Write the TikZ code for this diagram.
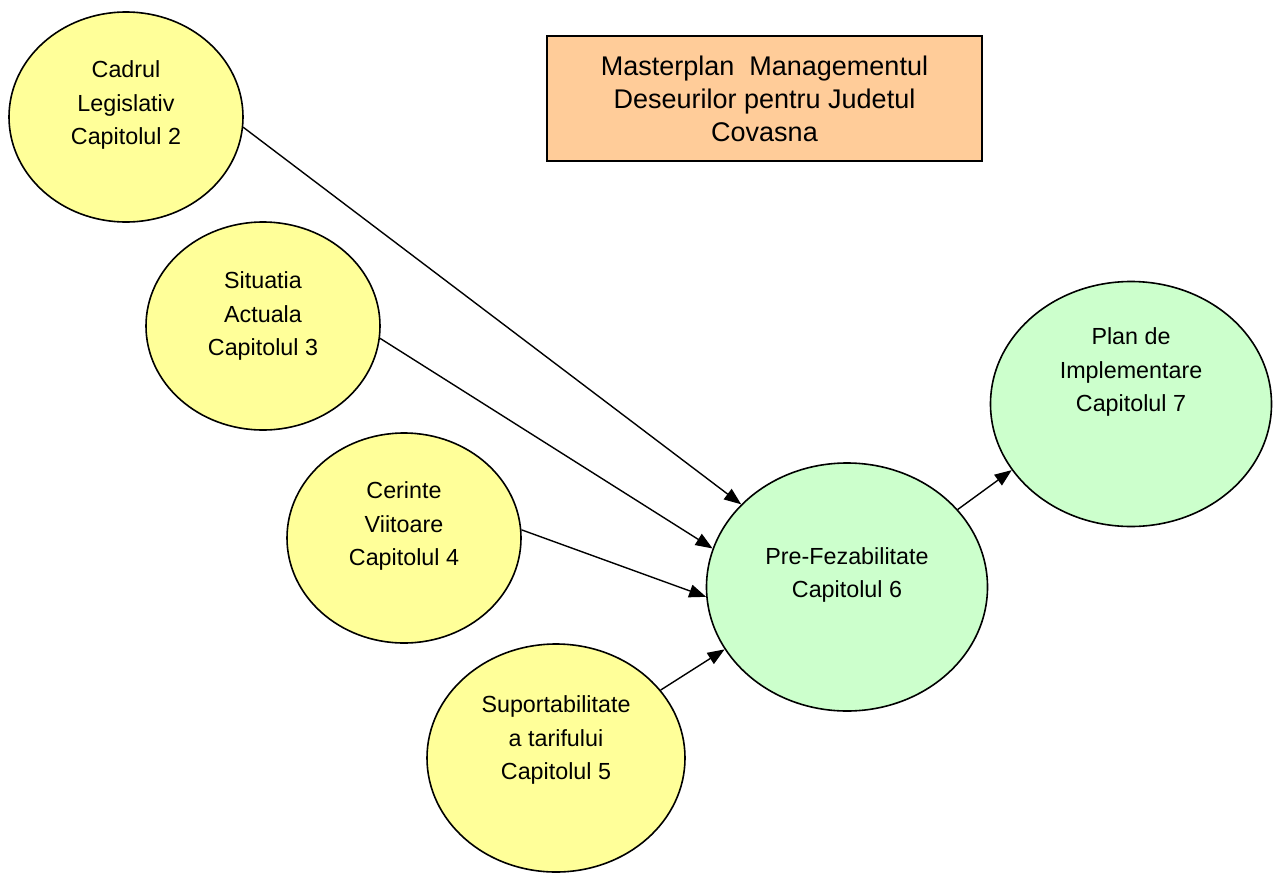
\documentclass[tikz,border=0pt]{standalone}
\usepackage{fontspec}
\setmainfont{Liberation Sans}
\usetikzlibrary{shapes.geometric,arrows.meta}
\definecolor{chapyellow}{HTML}{FFFF99}
\definecolor{chapgreen}{HTML}{CCFFCC}
\definecolor{titlepeach}{HTML}{FFCC99}
\begin{document}
\begin{tikzpicture}[x=1pt,y=-1pt,
  chap/.style={ellipse,draw=black,line width=1.6pt,inner sep=0pt},
  yel/.style={chap,fill=chapyellow},
  grn/.style={chap,fill=chapgreen},
  lbl/.style={align=center,font=\fontsize{23.3}{33.5}\selectfont,inner sep=0pt},
  titlelbl/.style={align=center,font=\fontsize{27}{33}\selectfont,inner sep=0pt},
  link/.style={line width=1.4pt,-{Triangle[length=17pt,width=13pt]}}]
\useasboundingbox (0,0) rectangle (1277,873);
% title box
\node[draw=black,line width=1.4pt,fill=titlepeach,minimum width=435pt,minimum height=125pt,inner sep=0pt] (title) at (764.5,98.5) {};
\node[titlelbl] (titletxt) at (764.5,99) {Masterplan\ \ Managementul\\Deseurilor pentru Judetul\\Covasna};
% chapter ellipses
\node[yel,minimum width=234pt,minimum height=210pt] (c2) at (126,117) {};
\node[yel,minimum width=234pt,minimum height=208pt] (c3) at (263,326) {};
\node[yel,minimum width=234pt,minimum height=210pt] (c4) at (404,538) {};
\node[yel,minimum width=258pt,minimum height=228pt] (c5) at (556,758) {};
\node[grn,minimum width=281pt,minimum height=248pt] (c6) at (847,587) {};
\node[grn,minimum width=281pt,minimum height=245pt] (c7) at (1131,404) {};
% chapter labels
\node[lbl] (t2) at (126,105) {Cadrul\\Legislativ\\Capitolul 2};
\node[lbl] (t3) at (263,316) {Situatia\\Actuala\\Capitolul 3};
\node[lbl] (t4) at (404,526) {Cerinte\\Viitoare\\Capitolul 4};
\node[lbl] (t5) at (556,740) {Suportabilitate\\a tarifului\\Capitolul 5};
\node[lbl] (t6) at (847,575) {Pre-Fezabilitate\\Capitolul 6};
\node[lbl] (t7) at (1131,372) {Plan de\\Implementare\\Capitolul 7};
% connectors
\draw[link] (c2.-5.5) -- (c6.142.2);
\draw[link] (c3.-6.8) -- (c6.164.1);
\draw[link] (c4.4.8) -- (c6.-176);
\draw[link] (c5.33.2) -- (c6.-153.6);
\draw[link] (c6.35.7) -- (c7.209.5);
\end{tikzpicture}
\end{document}
